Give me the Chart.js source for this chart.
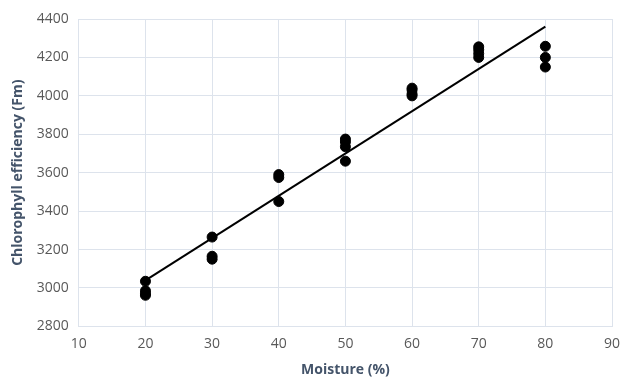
<!DOCTYPE html>
<html><head><meta charset="utf-8">
<script src="https://cdn.jsdelivr.net/npm/chart.js@4"></script>
<style>html,body{margin:0;padding:0;background:#fff}#wrap{width:620px;height:378px}</style>
</head><body><div id="wrap"><canvas id="c"></canvas></div>
<script>
const moistureX = [20,20,20,20, 30,30,30, 40,40,40, 50,50,50,50, 60,60,60,60, 70,70,70,70, 80,80,80];
const fmValues = [3035,2985,2970,2962, 3265,3165,3150, 3590,3575,3450, 3775,3760,3735,3660, 4040,4030,4010,4000, 4255,4240,4220,4200, 4258,4200,4150];
const trendX = [20, 80];
const trendY = [3040, 4360];
const xTicks = [10,20,30,40,50,60,70,80,90];
const yTicks = [2800,3000,3200,3400,3600,3800,4000,4200,4400];

const pts = moistureX.map((x,i)=>({x:x,y:fmValues[i]}));
const trend = trendX.map((x,i)=>({x:x,y:trendY[i]}));
const font = "'Open Sans', 'Noto Sans', sans-serif";
new Chart(document.getElementById('c'), {
  type:'scatter',
  data:{datasets:[
    {data:trend, type:'line', borderColor:'#000', borderWidth:2, pointRadius:0, fill:false, order:1},
    {data:pts, backgroundColor:'#000', borderColor:'#000', pointRadius:5, order:0}
  ]},
  options:{
    responsive:true, maintainAspectRatio:false, animation:false,
    layout:{padding:{left:10,right:8,top:19,bottom:0}},
    plugins:{legend:{display:false}, tooltip:{enabled:false}},
    scales:{
      x:{type:'linear', min:10, max:90,
        afterBuildTicks:s=>{s.ticks=xTicks.map(v=>({value:v}));},
        afterFit:s=>{s.paddingRight=0;},
        grid:{color:'#dde3ec', drawTicks:false}, border:{color:'#dde3ec'},
        ticks:{color:'#595959', font:{family:font,size:14}, padding:9, callback:v=>String(v)},
        title:{display:true, text:'Moisture (%)', color:'#44546a', font:{family:font,size:14,weight:'bold'}, padding:{top:0,bottom:0}}},
      y:{type:'linear', min:2800, max:4400,
        afterBuildTicks:s=>{s.ticks=yTicks.map(v=>({value:v}));},
        afterFit:s=>{s.paddingTop=0;s.paddingBottom=0;},
        grid:{color:'#dde3ec', drawTicks:false}, border:{color:'#dde3ec'},
        ticks:{color:'#595959', font:{family:font,size:14}, padding:10, callback:v=>String(v)},
        title:{display:true, text:'Chlorophyll efficiency (Fm)', color:'#44546a', font:{family:font,size:14,weight:'bold'}, padding:{top:0,bottom:0}}}
    }
  }
});
</script></body></html>
